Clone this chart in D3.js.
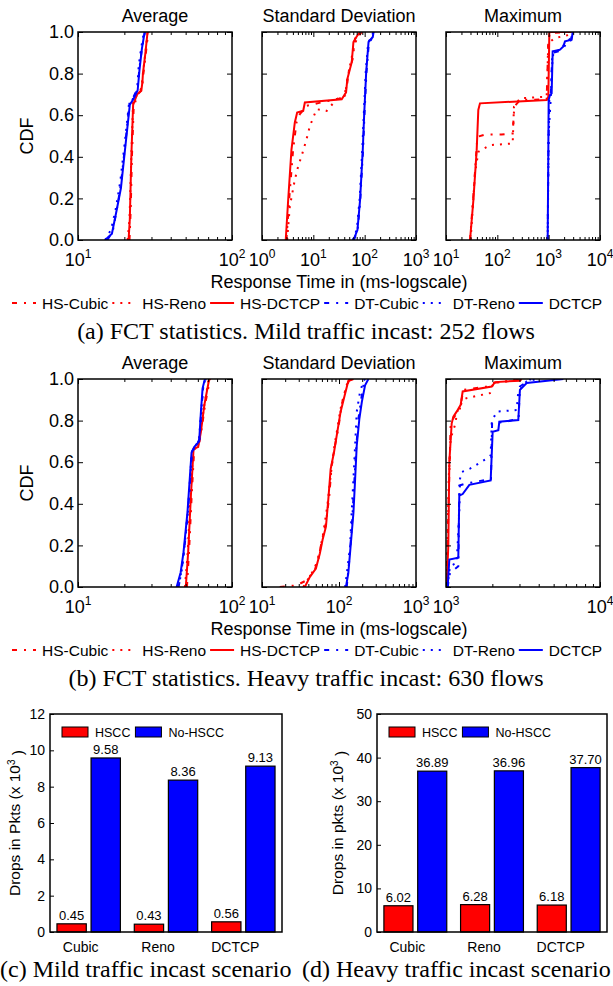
<!DOCTYPE html>
<meta charset="utf-8">
<style>

body { margin: 0; background: #fff; }

text {
  font-family: "Liberation Sans", Arial, sans-serif;
  fill: #000;
}

.caption {
  font-family: "Liberation Serif", "Times New Roman", serif;
}

</style>
<body>
<script src="https://d3js.org/d3.v7.min.js"></script>
<script>

// ---- CDF data: each series is a list of [response time in ms, CDF] ----
const seriesNames = ["HS-Cubic", "HS-Reno", "HS-DCTCP", "DT-Cubic", "DT-Reno", "DCTCP"];
const panelTitles = ["Average", "Standard Deviation", "Maximum"];
const mildDomains = [[10, 100], [1, 1000], [10, 10000]];
const heavyDomains = [[10, 100], [10, 1000], [1000, 10000]];

const mildAvg = [
  [[21.6,0],[22.0,0.15],[22.4,0.4],[23.0,0.64],[24.4,0.7],[26.0,0.72],[26.6,0.8],[27.6,0.9],[28.6,1]],
  [[21.0,0],[21.6,0.1],[22.2,0.4],[22.8,0.66],[24.2,0.7],[25.8,0.73],[26.4,0.8],[27.4,0.9],[28.3,1]],
  [[21.3,0],[21.7,0.1],[22.2,0.4],[22.8,0.65],[24.2,0.7],[25.8,0.72],[26.2,0.76],[26.4,0.8],[27.4,0.9],[28.3,1]],
  [[15.5,0],[16.8,0.04],[18.0,0.16],[19.0,0.27],[20.2,0.45],[21.6,0.66],[23.0,0.69],[24.4,0.73],[25.0,0.82],[26.0,0.92],[27.2,1]],
  [[15.0,0],[16.4,0.05],[17.6,0.15],[18.8,0.28],[20.0,0.45],[21.4,0.65],[22.8,0.68],[24.2,0.72],[24.8,0.84],[25.8,0.93],[26.8,1]],
  [[15.0,0],[16.6,0.03],[17.9,0.15],[19.0,0.25],[20.3,0.45],[21.7,0.65],[23.0,0.68],[24.4,0.72],[25.1,0.82],[26.0,0.92],[27.1,1]]
];

const mildStd = [
  [[2.99,0],[3.38,0.194],[4.04,0.435],[4.7,0.565],[5.46,0.605],[7.37,0.645],[12.5,0.658],[33.1,0.681],[44.7,0.726],[48.2,0.806],[58.6,0.871],[65,0.968],[75.6,0.992],[94.8,1]],
  [[3.09,0],[3.48,0.161],[4.36,0.29],[5.07,0.355],[5.89,0.403],[7.37,0.484],[8.57,0.548],[11.6,0.629],[18.2,0.621],[28.5,0.677],[41.5,0.694],[46,0.774],[51.9,0.839],[60.4,0.919],[70.2,0.968],[87.9,1]],
  [[2.9,0],[3.23,0.19],[3.75,0.435],[4.36,0.565],[4.84,0.613],[6.34,0.621],[6.84,0.661],[35.7,0.677],[43.4,0.71],[46,0.774],[56,0.855],[60.4,0.952],[72.3,0.984],[81.5,1]],
  [[62,0],[73,0.05],[82,0.19],[93,0.43],[99,0.6],[108,0.8],[121,0.95],[146,0.975],[150,1]],
  [[58.6,0],[70.2,0.05],[80,0.2],[90,0.44],[96,0.6],[105,0.81],[117,0.95],[140,0.98],[146,1]],
  [[60.4,0],[72.3,0.048],[81.5,0.194],[91.9,0.435],[97.6,0.597],[107,0.806],[119,0.952],[144,0.976],[149,1]]
];

const mildMax = [
  [[29.4,0],[35.1,0.254],[40.8,0.496],[57.5,0.507],[121,0.507],[199,0.512],[214,0.641],[277,0.673],[914,0.676],[985,0.963],[1062,0.995],[2244,1]],
  [[30.2,0],[36.7,0.319],[42.6,0.424],[71.9,0.456],[199,0.464],[211,0.641],[277,0.681],[914,0.689],[985,0.947],[1328,0.971],[2606,0.987],[2806,1]],
  [[29.4,0],[34.1,0.19],[39.6,0.432],[42.6,0.625],[45.9,0.657],[914,0.673],[985,0.689],[1030,0.995],[1062,1],[2806,1]],
  [[957,0],[990,0.45],[1030,0.68],[1100,0.7],[1180,0.9],[1700,0.91],[2000,0.94],[2700,0.96],[2900,1]],
  [[957,0],[1000,0.512],[1094,0.673],[1161,0.834],[1233,0.899],[1932,0.923],[2244,0.947],[2806,0.979],[2938,1]],
  [[957,0],[985,0.432],[1000,0.673],[1062,0.697],[1143,0.705],[1197,0.907],[1663,0.915],[1932,0.931],[2080,0.955],[2806,0.963],[2938,1]]
];

const heavyAvg = [
  [[51,0],[52.6,0.17],[54.8,0.45],[56.8,0.66],[60.8,0.68],[63.5,0.76],[67,0.88],[72,1]],
  [[49.5,0],[51.5,0.16],[53.8,0.44],[56,0.66],[60,0.675],[62.5,0.75],[66,0.87],[70.5,1]],
  [[50.1,0],[51.9,0.165],[54.1,0.44],[56.3,0.665],[60.3,0.673],[62.8,0.745],[66.1,0.874],[71.1,1]],
  [[45,0],[47,0.08],[49,0.18],[52,0.38],[55,0.65],[57.5,0.67],[61.5,0.71],[63.2,0.85],[65,0.96],[67.5,1]],
  [[44.5,0],[46.8,0.06],[48.8,0.17],[51.8,0.37],[54.8,0.65],[57,0.675],[61,0.7],[63,0.84],[64.8,0.95],[67,1]],
  [[43.7,0],[46.4,0.07],[48.4,0.165],[51.4,0.36],[54.6,0.645],[56.8,0.673],[61.2,0.7],[62.8,0.84],[64.4,0.955],[66.7,1]]
];

const heavyStd = [
  [[17,0],[28.1,0.008],[37.8,0.032],[48.6,0.081],[56.5,0.178],[67.7,0.308],[74.8,0.438],[80.2,0.583],[88.7,0.681],[98,0.762],[108,0.875],[120,0.94],[136,0.997],[162,1]],
  [[34.3,0],[44,0.065],[53.7,0.13],[62.5,0.26],[70.5,0.39],[77.9,0.535],[86.1,0.665],[95.1,0.762],[105,0.859],[116,0.924],[132,0.997],[154,1]],
  [[36,0],[41.9,0.049],[50.1,0.089],[56.5,0.162],[61.2,0.227],[67.7,0.29],[72.6,0.42],[77.9,0.567],[86.1,0.648],[95.1,0.746],[105,0.843],[116,0.908],[132,0.99],[154,1]],
  [[126,0],[136,0.13],[146,0.276],[157,0.486],[167,0.665],[179,0.81],[198,0.924],[212,0.989],[225,1]],
  [[120,0],[128,0.081],[139,0.194],[146,0.357],[154,0.519],[162,0.681],[170,0.843],[188,0.94],[208,0.989],[218,1]],
  [[123,0],[132,0.065],[139,0.162],[154,0.357],[162,0.519],[170,0.68],[184,0.81],[198,0.89],[218,0.97],[241,1]]
];

const heavyMax = [
  [[1010,0],[1035,0.359],[1072,0.779],[1116,0.811],[1233,0.859],[1296,0.948],[1836,0.964],[2029,0.981],[3020,0.997],[3100,1]],
  [[1010,0],[1041,0.52],[1072,0.714],[1144,0.779],[1184,0.843],[1296,0.9],[1362,0.908],[1930,0.932],[2029,0.981],[2476,0.989],[3020,1]],
  [[1010,0],[1035,0.197],[1051,0.601],[1089,0.787],[1116,0.819],[1173,0.843],[1245,0.876],[1283,0.94],[1982,0.964],[2081,0.985],[3020,0.992],[3098,1]],
  [[1025,0],[1062,0.068],[1202,0.1],[1220,0.488],[1329,0.496],[1960,0.52],[1992,0.787],[2476,0.795],[2962,0.811],[3020,0.964],[3510,0.997],[3600,1]],
  [[1020,0],[1062,0.1],[1173,0.116],[1220,0.359],[1233,0.52],[1264,0.553],[1432,0.569],[1836,0.617],[1950,0.633],[1982,0.795],[2134,0.843],[2878,0.851],[2948,0.94],[3342,0.989],[3880,1]],
  [[1025,0],[1051,0.132],[1202,0.141],[1220,0.439],[1283,0.447],[1418,0.491],[1950,0.512],[2009,0.746],[2187,0.754],[2219,0.795],[2948,0.803],[3020,0.948],[3342,0.981],[5780,1]]
];

// ---- packet drop bar data (x 10^3 packets) ----
const barCats = ["Cubic", "Reno", "DCTCP"];
const barKeys = ["HSCC", "No-HSCC"];
const mildHscc = [0.45, 0.43, 0.56];
const mildNoHscc = [9.58, 8.36, 9.13];
const heavyHscc = [6.02, 6.28, 6.18];
const heavyNoHscc = [36.89, 36.96, 37.70];

// ---- styles ----
const seriesColors = ["#ff0000", "#ff0000", "#ff0000", "#0000ff", "#0000ff", "#0000ff"];
const seriesDash = ["5,7,2,7", "2,6", null, "5,7,2,7", "2,6", null];
const barColors = ["#ff0000", "#0000ff"];

let width = 613,
    height = 986,
    panelLefts = [78, 262, 446],
    panelW = 154,
    panelH = 208;

let svg = d3.select("body").append("svg")
            .attr("width", width)
            .attr("height", height),
    defs = svg.append("defs");

const rows = [
  {top: 32, data: [mildAvg, mildStd, mildMax], domains: mildDomains,
   caption: "(a) FCT statistics. Mild traffic incast: 252 flows"},
  {top: 379, data: [heavyAvg, heavyStd, heavyMax], domains: heavyDomains,
   caption: "(b) FCT statistics. Heavy traffic incast: 630 flows"}
];

rows.forEach((row, r) => {
    row.data.forEach((series, i) => {
        let g = svg.append("g")
                   .attr("transform", `translate(${panelLefts[i]},${row.top})`);
        drawCdfPanel(g, series, row.domains[i], i, `clip${r}${i}`);
    });

    svg.append("text")
        .attr("transform", `translate(33,${row.top + panelH / 2}) rotate(-90)`)
        .attr("text-anchor", "middle")
        .style("font-size", "18px")
        .text("CDF");

    svg.append("text")
        .attr("x", 339)
        .attr("y", row.top + 256)
        .attr("text-anchor", "middle")
        .style("font-size", "18px")
        .text("Response Time in (ms-logscale)");

    drawLegend(svg.append("g").attr("transform", `translate(12,${row.top + 271})`));

    svg.append("text")
        .attr("class", "caption")
        .attr("x", 306)
        .attr("y", row.top + 307)
        .attr("text-anchor", "middle")
        .style("font-size", "24px")
        .text(row.caption);
});

function drawCdfPanel(g, series, domain, i, clipId) {
    let x = d3.scaleLog().domain(domain).range([0, panelW]),
        y = d3.scaleLinear().domain([0, 1]).range([panelH, 0]);

    defs.append("clipPath").attr("id", clipId)
        .append("rect").attr("width", panelW).attr("height", panelH);

    let line = d3.line()
                 .x(d => x(d[0]))
                 .y(d => y(d[1]));

    g.append("g")
        .attr("clip-path", `url(#${clipId})`)
      .selectAll("path")
      .data(series)
      .join("path")
        .attr("d", line)
        .attr("fill", "none")
        .attr("stroke", (d, k) => seriesColors[k])
        .attr("stroke-width", 2)
        .attr("stroke-dasharray", (d, k) => seriesDash[k]);

    let allTicks = x.ticks(),
        majors = allTicks.filter(t => Math.abs(Math.log10(t) - Math.round(Math.log10(t))) < 1e-9),
        minors = allTicks.filter(t => !majors.includes(t));

    const tickStyle = sel => {
        sel.select(".domain").remove();
        sel.selectAll("line").attr("stroke", "#000");
    };

    g.append("g").attr("transform", `translate(0,${panelH})`)
        .call(d3.axisBottom(x).tickValues(minors).tickSize(-3).tickFormat("")).call(tickStyle);
    g.append("g").attr("transform", `translate(0,${panelH})`)
        .call(d3.axisBottom(x).tickValues(majors).tickSize(-5).tickFormat("")).call(tickStyle);
    g.append("g")
        .call(d3.axisTop(x).tickValues(minors).tickSize(-3).tickFormat("")).call(tickStyle);
    g.append("g")
        .call(d3.axisTop(x).tickValues(majors).tickSize(-5).tickFormat("")).call(tickStyle);

    let yTicks = [0, 0.2, 0.4, 0.6, 0.8, 1.0];
    g.append("g")
        .call(d3.axisLeft(y).tickValues(yTicks).tickSize(-5).tickPadding(4)
                .tickFormat(i == 0 ? d3.format(".1f") : ""))
        .call(tickStyle)
        .selectAll("text").style("font-size", "18px").attr("font-family", null);
    g.append("g").attr("transform", `translate(${panelW},0)`)
        .call(d3.axisRight(y).tickValues(yTicks).tickSize(-5).tickFormat(""))
        .call(tickStyle);

    // 10^n labels at every decade
    let lab = g.append("g").selectAll("text")
               .data(majors)
               .join("text")
                 .attr("x", d => x(d))
                 .attr("y", panelH + 26)
                 .attr("text-anchor", "middle")
                 .style("font-size", "18px");
    lab.append("tspan").text("10");
    lab.append("tspan")
        .attr("dy", -8)
        .style("font-size", "12px")
        .text(d => Math.round(Math.log10(d)));

    g.append("rect")
        .attr("width", panelW)
        .attr("height", panelH)
        .attr("fill", "none")
        .attr("stroke", "#000")
        .attr("stroke-width", 1.5);

    g.append("text")
        .attr("x", panelW / 2)
        .attr("y", -10)
        .attr("text-anchor", "middle")
        .style("font-size", "18px")
        .text(panelTitles[i]);
}

function drawLegend(g) {
    let xPos = 0;
    seriesNames.forEach((name, k) => {
        g.append("line")
            .attr("x1", xPos).attr("x2", xPos + 24)
            .attr("y1", 0).attr("y2", 0)
            .attr("stroke", seriesColors[k])
            .attr("stroke-width", 2)
            .attr("stroke-dasharray", seriesDash[k]);
        let t = g.append("text")
                 .attr("x", xPos + 30)
                 .attr("y", 0)
                 .attr("dy", "0.36em")
                 .style("font-size", "15.5px")
                 .text(name);
        xPos += 30 + t.node().getComputedTextLength() + 4;
    });
}

// ---- bar charts ----
const barCharts = [
  {left: 50, right: 282, max: 12, step: 2, hscc: mildHscc, noHscc: mildNoHscc,
   ylabel: "Drops in Pkts (x 10", labelX: 15, caption: "(c) Mild traffic incast scenario", capX: 0},
  {left: 377, right: 607, max: 50, step: 10, hscc: heavyHscc, noHscc: heavyNoHscc,
   ylabel: "Drops in pkts (x 10", labelX: 338, caption: "(d) Heavy traffic incast scenario", capX: 302}
];

let barTop = 714, barBottom = 932;

barCharts.forEach(c => {
    let w = c.right - c.left,
        h = barBottom - barTop,
        g = svg.append("g").attr("transform", `translate(${c.left},${barTop})`);

    let x0 = d3.scaleBand().domain(barCats).range([0, w]).paddingInner(0.18).paddingOuter(0.09),
        x1 = d3.scaleBand().domain(barKeys).range([0, x0.bandwidth()]).paddingInner(0.14),
        y = d3.scaleLinear().domain([0, c.max]).range([h, 0]);

    let rowsData = barCats.map((cat, i) => ({cat: cat, vals: [c.hscc[i], c.noHscc[i]]}));

    let grp = g.selectAll("g.grp")
               .data(rowsData)
               .join("g")
                 .attr("class", "grp")
                 .attr("transform", d => `translate(${x0(d.cat)},0)`);

    grp.selectAll("rect")
        .data(d => d.vals.map((v, k) => ({key: barKeys[k], v: v, k: k})))
        .join("rect")
          .attr("x", d => x1(d.key))
          .attr("y", d => y(d.v))
          .attr("width", x1.bandwidth())
          .attr("height", d => h - y(d.v))
          .attr("fill", d => barColors[d.k])
          .attr("stroke", "#000")
          .attr("stroke-width", 1.2);

    grp.selectAll("text")
        .data(d => d.vals.map((v, k) => ({key: barKeys[k], v: v})))
        .join("text")
          .attr("x", d => x1(d.key) + x1.bandwidth() / 2)
          .attr("y", d => y(d.v) - 4)
          .attr("text-anchor", "middle")
          .style("font-size", "13px")
          .text(d => d.v.toFixed(2));

    g.append("g")
        .call(d3.axisLeft(y).ticks(c.max / c.step).tickSize(-4).tickPadding(5))
        .call(sel => { sel.select(".domain").remove(); sel.selectAll("line").attr("stroke", "#000"); })
        .selectAll("text").style("font-size", "14px").attr("font-family", null);

    // category labels sit slightly left of the group centre
    g.append("g").attr("transform", `translate(-8,${h})`)
        .call(d3.axisBottom(x0).tickSize(0).tickPadding(10))
        .call(sel => sel.select(".domain").remove())
        .selectAll("text").style("font-size", "14px").attr("font-family", null);

    g.append("rect")
        .attr("width", w)
        .attr("height", h)
        .attr("fill", "none")
        .attr("stroke", "#000")
        .attr("stroke-width", 1.5);

    // legend
    let lx = 12;
    barKeys.forEach((key, k) => {
        g.append("rect")
            .attr("x", lx).attr("y", 13)
            .attr("width", 26).attr("height", 10)
            .attr("fill", barColors[k])
            .attr("stroke", "#000");
        let t = g.append("text")
                 .attr("x", lx + 33)
                 .attr("y", 18)
                 .attr("dy", "0.36em")
                 .style("font-size", "12.5px")
                 .text(key);
        lx += 33 + t.node().getComputedTextLength() + 5;
    });

    let yl = svg.append("text")
                .attr("transform", `translate(${c.labelX},${(barTop + barBottom) / 2}) rotate(-90)`)
                .attr("text-anchor", "middle")
                .attr("dy", "0.35em")
                .style("font-size", "15.5px");
    yl.append("tspan").text(c.ylabel);
    yl.append("tspan").attr("dy", "-0.5em").style("font-size", "10px").text("3");
    yl.append("tspan").attr("dy", "0.5em").text(" )");

    svg.append("text")
        .attr("class", "caption")
        .attr("x", c.capX)
        .attr("y", 977)
        .style("font-size", "24px")
        .text(c.caption);
});

</script>
